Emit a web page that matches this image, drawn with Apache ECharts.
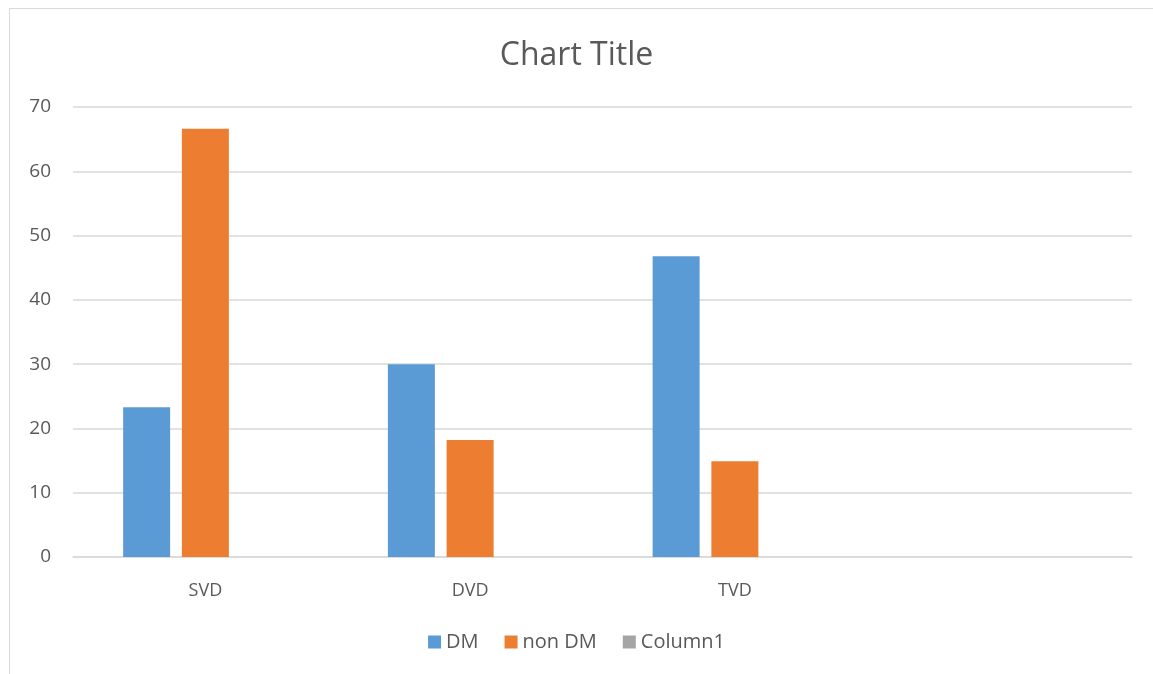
<!DOCTYPE html>
<html>
<head>
<meta charset="utf-8">
<script src="https://cdn.jsdelivr.net/npm/echarts@6/dist/echarts.min.js"></script>
<style>
  html, body { margin: 0; padding: 0; background: #fff; }
  #frame { position: absolute; left: 9px; top: 8px; width: 1150px; height: 670px; border: 1px solid #d9d9d9; box-sizing: border-box; }
  #chart { position: absolute; left: 0; top: 0; width: 1153px; height: 674px; }
</style>
</head>
<body>
<div id="frame"></div>
<div id="chart"></div>
<script>
// categories (the 4th slot is empty in the original sheet)
const categories = ['SVD', 'DVD', 'TVD', '']
const dmValues = [23.3, 30.0, 46.8, null]
const nonDmValues = [66.6, 18.2, 14.9, null]
const column1Values = [null, null, null, null]
const yTicks = { min: 0, max: 70, interval: 10 }

const chart = echarts.init(document.getElementById('chart'))
const textColor = '#595959'
const font = '"Open Sans", "Liberation Sans", sans-serif'

const option = {
  animation: false,
  title: {
    text: 'Chart Title',
    left: 'center',
    top: 35,
    textStyle: { color: textColor, fontWeight: 'normal', fontSize: 32, fontFamily: font }
  },
  legend: {
    bottom: 17,
    left: 'center',
    itemWidth: 13,
    itemHeight: 13,
    itemGap: 26,
    icon: 'rect',
    textStyle: { color: textColor, fontSize: 20, fontFamily: font },
    data: ['DM', 'non DM', 'Column1']
  },
  grid: { left: 73, right: 21, top: 107, bottom: 117 },
  xAxis: {
    type: 'category',
    data: categories,
    axisLine: { lineStyle: { color: '#d9d9d9', width: 1.5 } },
    axisTick: { show: false },
    axisLabel: { color: textColor, fontSize: 18, fontFamily: font, margin: 25 }
  },
  yAxis: {
    type: 'value',
    min: yTicks.min,
    max: yTicks.max,
    interval: yTicks.interval,
    axisLine: { show: false },
    axisTick: { show: false },
    axisLabel: { color: textColor, fontSize: 19, fontFamily: font, margin: 22 },
    splitLine: { lineStyle: { color: '#d9d9d9', width: 1.5 } }
  },
  series: [
    { name: 'DM', type: 'bar', data: dmValues, barWidth: 47, barGap: '25%', itemStyle: { color: '#5b9bd5' } },
    { name: 'non DM', type: 'bar', data: nonDmValues, barWidth: 47, barGap: '25%', itemStyle: { color: '#ed7d31' } },
    { name: 'Column1', type: 'bar', data: column1Values, barWidth: 47, barGap: '25%', itemStyle: { color: '#a5a5a5' } }
  ]
}

chart.setOption(option)
</script>
</body>
</html>
